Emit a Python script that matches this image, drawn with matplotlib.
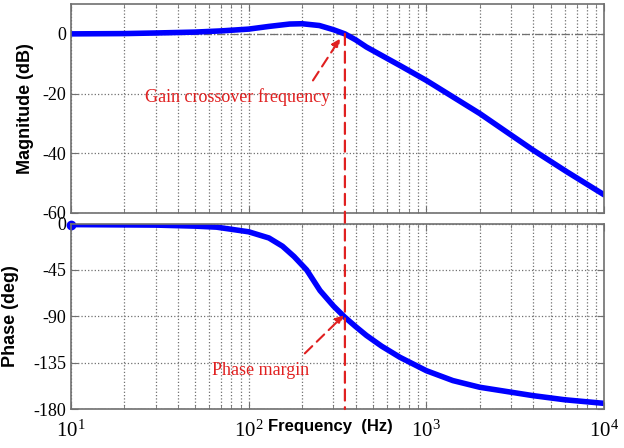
import numpy as np
import matplotlib
matplotlib.use('Agg')
import matplotlib.pyplot as plt
from matplotlib.patches import ConnectionPatch

# values
freqMag = [10, 20, 30, 50, 70, 100, 130, 170, 200, 250, 300, 348,
           400, 460, 710, 1000, 1410, 2000, 2820, 3980, 6140, 10000]
magDb = [0, 0.1, 0.3, 0.6, 1.0, 1.6, 2.5, 3.3, 3.4, 2.8, 1.4, 0,
         -2.0, -4.4, -10.6, -15.6, -21.1, -26.7, -32.8, -38.9, -46.1, -53.9]

freqPh = [10, 30, 50, 66, 100, 130, 155, 180, 212, 252, 300, 348,
          400, 460, 560, 710, 1000, 1410, 2000, 3980, 6000, 10000]
phaseDeg = [-1, -1.5, -2.5, -3.5, -8, -14, -22, -32, -45, -65, -80, -91,
            -100, -108.6, -119, -129.8, -142.8, -152.4, -158.9, -167, -171, -174.5]

fc = 348        # gain crossover
pmPhase = -91   # phase at crossover

magTicks = [0, -20, -40, -60]
phTicks = [0, -45, -90, -135, -180]

serif = 'Liberation Serif'
sans = 'Liberation Sans'
red = '#e02020'
gridCol = '#707070'
frameCol = '#707070'

plt.rcParams['mathtext.fontset'] = 'custom'
plt.rcParams['mathtext.rm'] = serif
plt.rcParams['mathtext.it'] = serif + ':italic'
plt.rcParams['mathtext.bf'] = serif + ':bold'
plt.rcParams['mathtext.default'] = 'rm'

fig = plt.figure(figsize=(6.24, 4.48), dpi=100)
ax1 = fig.add_axes([0.1138, 0.5246, 0.8542, 0.4664])
ax2 = fig.add_axes([0.1138, 0.087, 0.8542, 0.414])


def style(ax):
    ax.set_xscale('log')
    ax.set_xlim(10, 1e4)
    ax.grid(True, which='major', axis='both', linestyle=':', color=gridCol, lw=0.9)
    ax.grid(True, which='minor', axis='x', linestyle=':', color=gridCol, lw=0.9)
    ax.tick_params(which='both', direction='in', top=True, right=True, color=frameCol)
    ax.tick_params(which='major', length=5)
    ax.tick_params(which='minor', length=3)
    for s in ax.spines.values():
        s.set_color(frameCol)
        s.set_linewidth(1.2)
    for lab in ax.get_yticklabels() + ax.get_xticklabels():
        lab.set_fontfamily(serif)
        lab.set_fontsize(13)


ax1.semilogx(freqMag, magDb, color='#0000ff', lw=4, solid_capstyle='round')
ax1.axhline(0, color=gridCol, lw=0.9, ls='-.', zorder=0)
ax1.set_ylim(-60, 10)
ax1.set_yticks(magTicks)
ax1.set_yticklabels([str(t) for t in magTicks])
style(ax1)
ax1.tick_params(labelbottom=False)
ax1.set_ylabel('Magnitude (dB)', fontfamily=sans, fontweight='bold', fontsize=13, labelpad=6)

ax2.semilogx(freqPh, phaseDeg, color='#0000ff', lw=4, solid_capstyle='round')
ax2.plot(freqPh[0], phaseDeg[0], 'o', color='#0000ff', ms=6, clip_on=False)
ax2.axhline(-180, color=gridCol, lw=0.9, ls='-.', zorder=0)
ax2.set_ylim(-180, 0)
ax2.set_yticks(phTicks)
ax2.set_yticklabels([str(t) for t in phTicks])
style(ax2)
ax2.set_ylabel('Phase (deg)', fontfamily=sans, fontweight='bold', fontsize=13, labelpad=10)
ax2.tick_params(axis='x', pad=8)
for lab in ax2.get_xticklabels():
    lab.set_fontsize(15)

fig.text(0.53, 0.047, 'Frequency  (Hz)', fontfamily=sans, fontweight='bold',
         fontsize=12, ha='center', va='center')

# vertical dashed line at the crossover, through both panels
con = ConnectionPatch(xyA=(fc, 0), coordsA=ax1.transData,
                      xyB=(fc, -180), coordsB=ax2.transData,
                      color=red, lw=1.6, ls=(0, (5, 3)), zorder=5)
fig.add_artist(con)

arrow = dict(arrowstyle='-|>', color=red, lw=1.5, ls=(0, (5, 3)),
             shrinkA=0, shrinkB=0, mutation_scale=12)

ax1.text(87, -21.2, 'Gain crossover frequency', fontfamily=serif, fontsize=13,
         color=red, ha='center', va='center')
ax1.annotate('', xy=(327, -1.6), xytext=(230, -15.6), arrowprops=arrow)

ax2.text(117, -142.7, 'Phase margin', fontfamily=serif, fontsize=13,
         color=red, ha='center', va='center')
ax2.annotate('', xy=(343, pmPhase + 2), xytext=(207, -126), arrowprops=arrow)

fig.savefig('out.png', dpi=100)
